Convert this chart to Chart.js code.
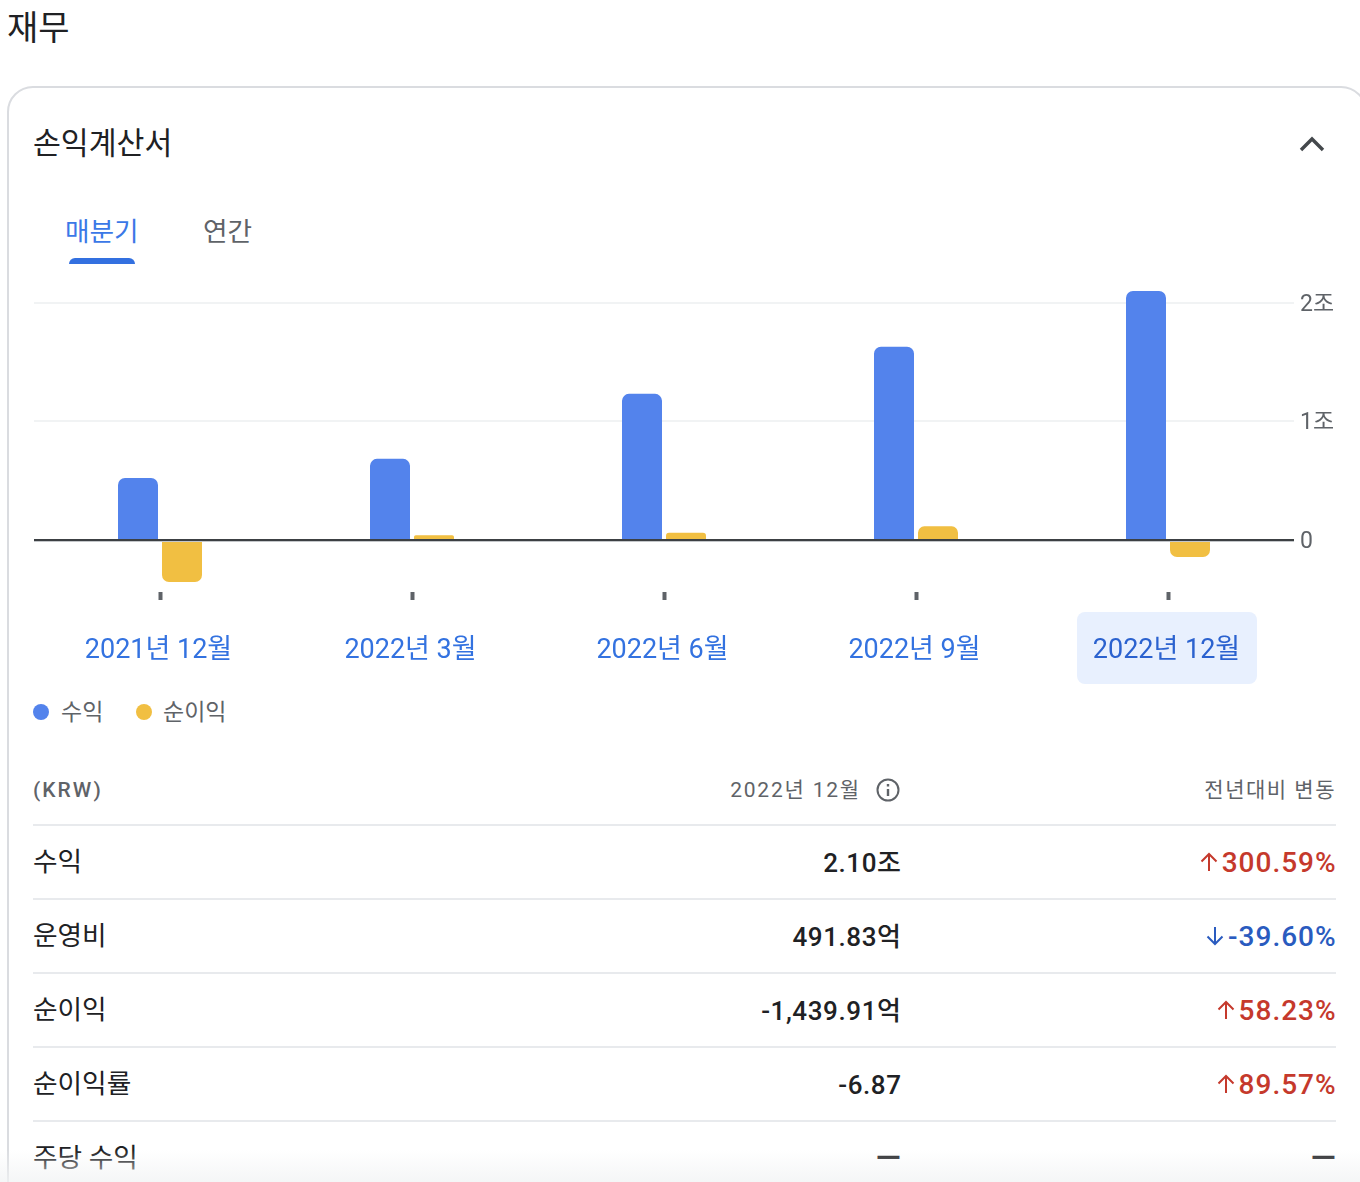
<!DOCTYPE html>
<html lang="ko">
<head>
<meta charset="utf-8">
<title>재무</title>
<script src="https://cdn.jsdelivr.net/npm/chart.js"></script>
<style>
  html, body { margin: 0; padding: 0; background: #fff; }
  body { width: 1360px; height: 1182px; overflow: hidden; position: relative;
         font-family: Roboto, "Noto Sans CJK KR", sans-serif; color: #202124; }
  .abs { position: absolute; white-space: nowrap; line-height: 1; }
  #card { position: absolute; left: 7px; top: 86px; width: 1360px; height: 1200px;
          border: 2px solid #dadce0; border-radius: 26px; box-sizing: border-box; }
  #wrap { position: absolute; left: 0; top: 260px; width: 1360px; height: 424px; }
  .dot { position: absolute; width: 16px; height: 16px; border-radius: 50%; top: 704px; }
  .sep { position: absolute; left: 33px; width: 1303px; height: 2px; background: #e8eaed; }
  #fade { position: absolute; left: 0; top: 1150px; width: 1360px; height: 32px;
          background: linear-gradient(rgba(241,243,244,0), rgba(241,243,244,.75)); }
</style>
</head>
<body>
<div class="abs" style="left:7px;top:11px;font-size:34px;color:#202124">재무</div>
<div id="card"></div>
<div class="abs" style="left:33px;top:129px;font-size:30.3px;color:#202124">손익계산서</div>
<svg class="abs" style="left:1298px;top:134px" width="28" height="20" viewBox="0 0 28 20">
  <path d="M3 16 L14 5 L25 16" fill="none" stroke="#44484c" stroke-width="3.4"/>
</svg>
<div class="abs" style="left:65px;top:219px;font-size:26.7px;color:#3b78e7">매분기</div>
<div class="abs" style="left:203px;top:219px;font-size:26.7px;color:#5f6368">연간</div>
<div style="position:absolute;left:69px;top:258px;width:66px;height:6px;background:#3370e0;border-radius:6px 6px 0 0"></div>

<div id="wrap"><canvas id="grafico"></canvas></div>
<div id="leyenda"></div>
<div id="tabla"></div>
<div id="fade"></div>

<script>
// Datos del gráfico (unidad: 조 KRW)
const periodos = ['2021년 12월', '2022년 3월', '2022년 6월', '2022년 9월', '2022년 12월'];
const ingresos = [0.523, 0.684, 1.232, 1.629, 2.10];
const beneficio = [-0.354, 0.04, 0.06, 0.115, -0.144];
const marcasY = [0, 1, 2];
const nombresSeries = ['수익', '순이익'];
const coloresSeries = ['#5383ec', '#f1bf42'];

// Datos de la tabla
const filas = ['수익', '운영비', '순이익', '순이익률', '주당 수익'];
const valores = ['2.10조', '491.83억', '-1,439.91억', '-6.87', '—'];
const cambios = ['300.59%', '-39.60%', '58.23%', '89.57%', '—'];
const direcciones = ['up', 'down', 'up', 'up', ''];

const FUENTE = 'Roboto, "Noto Sans CJK KR", sans-serif';
const seleccionado = periodos.length - 1;

// Caja resaltada detrás de la última etiqueta y línea del cero sobre las barras
const pluginResaltado = {
    id: 'resaltado',
    beforeDraw(chart) {
        const { ctx, scales } = chart;
        const cx = scales.x.getPixelForTick(seleccionado) - 1;
        ctx.save();
        ctx.fillStyle = '#e8f0fe';
        ctx.beginPath();
        ctx.roundRect(cx - 90, 352, 180, 72, 8);
        ctx.fill();
        ctx.restore();
    },
    afterDatasetsDraw(chart) {
        const { ctx, chartArea, scales } = chart;
        const y = Math.round(scales.y.getPixelForValue(0));
        ctx.save();
        ctx.fillStyle = '#c4c7ca';
        ctx.fillRect(chartArea.left, y + 1, chartArea.width, 1);
        ctx.fillStyle = '#3c4043';
        ctx.fillRect(chartArea.left, y - 1, chartArea.width, 2);
        ctx.restore();
    }
};

new Chart(document.getElementById('grafico').getContext('2d'), {
    type: 'bar',
    data: {
        labels: periodos,
        datasets: [
            { label: nombresSeries[0], data: ingresos, backgroundColor: coloresSeries[0] },
            { label: nombresSeries[1], data: beneficio, backgroundColor: coloresSeries[1] }
        ]
    },
    options: {
        responsive: true,
        maintainAspectRatio: false,
        animation: false,
        layout: { padding: { left: 34, top: 0, right: 0, bottom: 0 } },
        datasets: {
            bar: { categoryPercentage: 88 / 252, barPercentage: 40 / 44, borderRadius: 7 }
        },
        plugins: { legend: { display: false }, tooltip: { enabled: false } },
        scales: {
            x: {
                afterFit(scale) { scale.height = 92; },
                border: { display: false },
                grid: {
                    offset: false,
                    drawOnChartArea: false,
                    tickLength: 8,
                    tickWidth: 4,
                    tickColor: '#5f6368'
                },
                ticks: {
                    maxRotation: 0,
                    autoSkip: false,
                    padding: 35,
                    labelOffset: -1.5,
                    font: { family: FUENTE, size: 27 },
                    color: c => c.index === seleccionado ? '#2b62cf' : '#3372e0'
                }
            },
            y: {
                position: 'right',
                min: -0.4388,
                max: 2.194,
                afterFit(scale) { scale.width = 66; },
                afterBuildTicks(scale) { scale.ticks = marcasY.map(v => ({ value: v })); },
                border: { display: false },
                grid: {
                    color: c => c.tick && c.tick.value === 0 ? 'rgba(0,0,0,0)' : '#f1f3f4',
                    lineWidth: 2,
                    drawTicks: false
                },
                ticks: {
                    padding: 6,
                    labelOffset: 2,
                    font: { family: FUENTE, size: 23 },
                    color: '#5f6368',
                    callback: v => v === 0 ? '0' : v + '조'
                }
            }
        }
    },
    plugins: [pluginResaltado]
});

// Leyenda
const leyenda = document.getElementById('leyenda');
[[33, 61], [136, 163]].forEach(([xPunto, xTexto], i) => {
    const punto = document.createElement('div');
    punto.className = 'dot';
    punto.style.left = xPunto + 'px';
    punto.style.background = coloresSeries[i];
    leyenda.appendChild(punto);
    leyenda.appendChild(texto(nombresSeries[i], { left: xTexto, top: 701, size: 23, color: '#5f6368' }));
});

function texto(cadena, o) {
    const d = document.createElement('div');
    d.className = 'abs';
    d.textContent = cadena;
    d.style.top = o.top + 'px';
    d.style.fontSize = o.size + 'px';
    d.style.color = o.color;
    if (o.left !== undefined) d.style.left = o.left + 'px';
    if (o.right !== undefined) d.style.right = (1360 - o.right) + 'px';
    if (o.weight) d.style.fontWeight = o.weight;
    if (o.spacing) d.style.letterSpacing = o.spacing + 'px';
    return d;
}

function flecha(dir, right, top, color) {
    const s = document.createElementNS('http://www.w3.org/2000/svg', 'svg');
    s.setAttribute('class', 'abs');
    s.setAttribute('width', 20);
    s.setAttribute('height', 20);
    s.setAttribute('viewBox', '0 0 20 20');
    s.style.left = (right - 20) + 'px';
    s.style.top = top + 'px';
    const d = dir === 'up' ? 'M10 19 V2 M2.5 9.5 L10 2 L17.5 9.5' : 'M10 1 V18 M2.5 10.5 L10 18 L17.5 10.5';
    s.innerHTML = '<path d="' + d + '" fill="none" stroke="' + color + '" stroke-width="2"/>';
    return s;
}

// Tabla
const tabla = document.getElementById('tabla');
tabla.appendChild(texto('(KRW)', { left: 33, top: 780, size: 21, color: '#5f6368', weight: 500, spacing: 2 }));
tabla.appendChild(texto('2022년 12월', { right: 861, top: 780, size: 21, color: '#5f6368', spacing: 1.8 }));
tabla.appendChild(texto('전년대비 변동', { right: 1336, top: 780, size: 21, color: '#5f6368', spacing: 1.5 }));
const info = document.createElementNS('http://www.w3.org/2000/svg', 'svg');
info.setAttribute('class', 'abs');
info.setAttribute('width', 26);
info.setAttribute('height', 26);
info.style.left = '875px';
info.style.top = '777px';
info.innerHTML = '<circle cx="13" cy="13" r="10.5" fill="none" stroke="#5f6368" stroke-width="2"/>' +
    '<path d="M13 12 V19 M13 7 V9.5" stroke="#5f6368" stroke-width="2.4"/>';
tabla.appendChild(info);

filas.forEach((nombre, i) => {
    const base = 825 + i * 74;
    const sep = document.createElement('div');
    sep.className = 'sep';
    sep.style.top = (base - 1) + 'px';
    tabla.appendChild(sep);
    tabla.appendChild(texto(nombre, { left: 33, top: base + 24, size: 26.7, color: '#202124' }));
    const raya = valores[i] === '—';
    tabla.appendChild(texto(valores[i], {
        right: 901.6, top: base + (raya ? 20 : 25), size: raya ? 33 : 26, color: '#202124', weight: 500, spacing: 0.6
    }));
    const color = direcciones[i] === 'up' ? '#c5392c' : direcciones[i] === 'down' ? '#2a5bbf' : '#202124';
    const cambio = texto(cambios[i], {
        right: 1336.6, top: base + (raya ? 20 : 24), size: raya ? 33 : 28, color: color, weight: 500, spacing: raya ? 0.6 : 1
    });
    tabla.appendChild(cambio);
    if (direcciones[i]) {
        tabla.appendChild(flecha(direcciones[i], cambio.getBoundingClientRect().left - 3, base + 27, color));
    }
});
</script>
</body>
</html>
